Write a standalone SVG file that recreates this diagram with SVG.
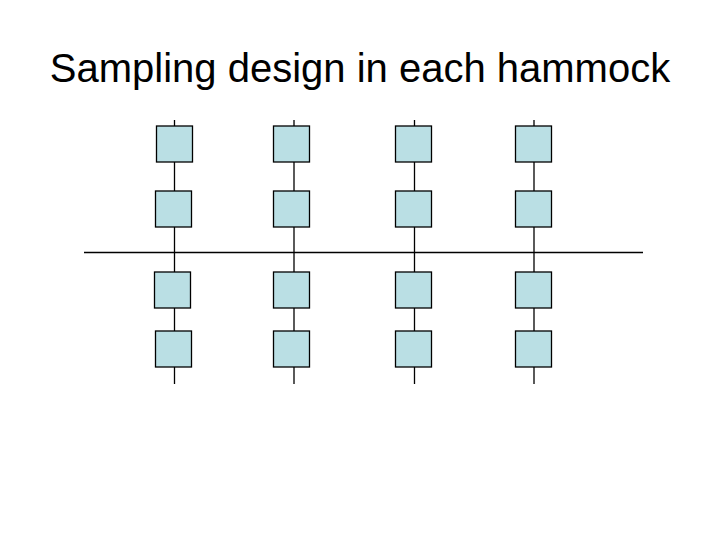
<svg xmlns="http://www.w3.org/2000/svg" width="720" height="540" viewBox="0 0 720 540">
<style>
.box{fill:#BADFE4;stroke:#000;stroke-width:1.3}
.ln{stroke:#000;stroke-width:1.3;fill:none}
.title{font-family:"Liberation Sans",Arial,sans-serif;font-size:40px;fill:#000}
</style>
<rect width="720" height="540" fill="#fff"/>
<text class="title" x="360" y="82" text-anchor="middle">Sampling design in each hammock</text>
<g id="connectors">
<line class="ln" x1="84" y1="252.5" x2="643" y2="252.5"/>
<line class="ln" x1="174.5" y1="120" x2="174.5" y2="384"/>
<line class="ln" x1="294" y1="120" x2="294" y2="384"/>
<line class="ln" x1="414.5" y1="120" x2="414.5" y2="384"/>
<line class="ln" x1="534" y1="120" x2="534" y2="384"/>
</g>
<g id="c1r1"><rect class="box" x="156.5" y="126" width="36" height="36"/></g>
<g id="c1r2"><rect class="box" x="155.5" y="191" width="36" height="36"/></g>
<g id="c1r3"><rect class="box" x="154.5" y="272" width="36" height="36"/></g>
<g id="c1r4"><rect class="box" x="155.5" y="331" width="36" height="36"/></g>
<g id="c2r1"><rect class="box" x="273.5" y="126" width="36" height="36"/></g>
<g id="c2r2"><rect class="box" x="273.5" y="191" width="36" height="36"/></g>
<g id="c2r3"><rect class="box" x="273.5" y="272" width="36" height="36"/></g>
<g id="c2r4"><rect class="box" x="273.5" y="331" width="36" height="36"/></g>
<g id="c3r1"><rect class="box" x="395.5" y="126" width="36" height="36"/></g>
<g id="c3r2"><rect class="box" x="395.5" y="191" width="36" height="36"/></g>
<g id="c3r3"><rect class="box" x="395.5" y="272" width="36" height="36"/></g>
<g id="c3r4"><rect class="box" x="395.5" y="331" width="36" height="36"/></g>
<g id="c4r1"><rect class="box" x="515.5" y="126" width="36" height="36"/></g>
<g id="c4r2"><rect class="box" x="515.5" y="191" width="36" height="36"/></g>
<g id="c4r3"><rect class="box" x="515.5" y="272" width="36" height="36"/></g>
<g id="c4r4"><rect class="box" x="515.5" y="331" width="36" height="36"/></g>
</svg>
